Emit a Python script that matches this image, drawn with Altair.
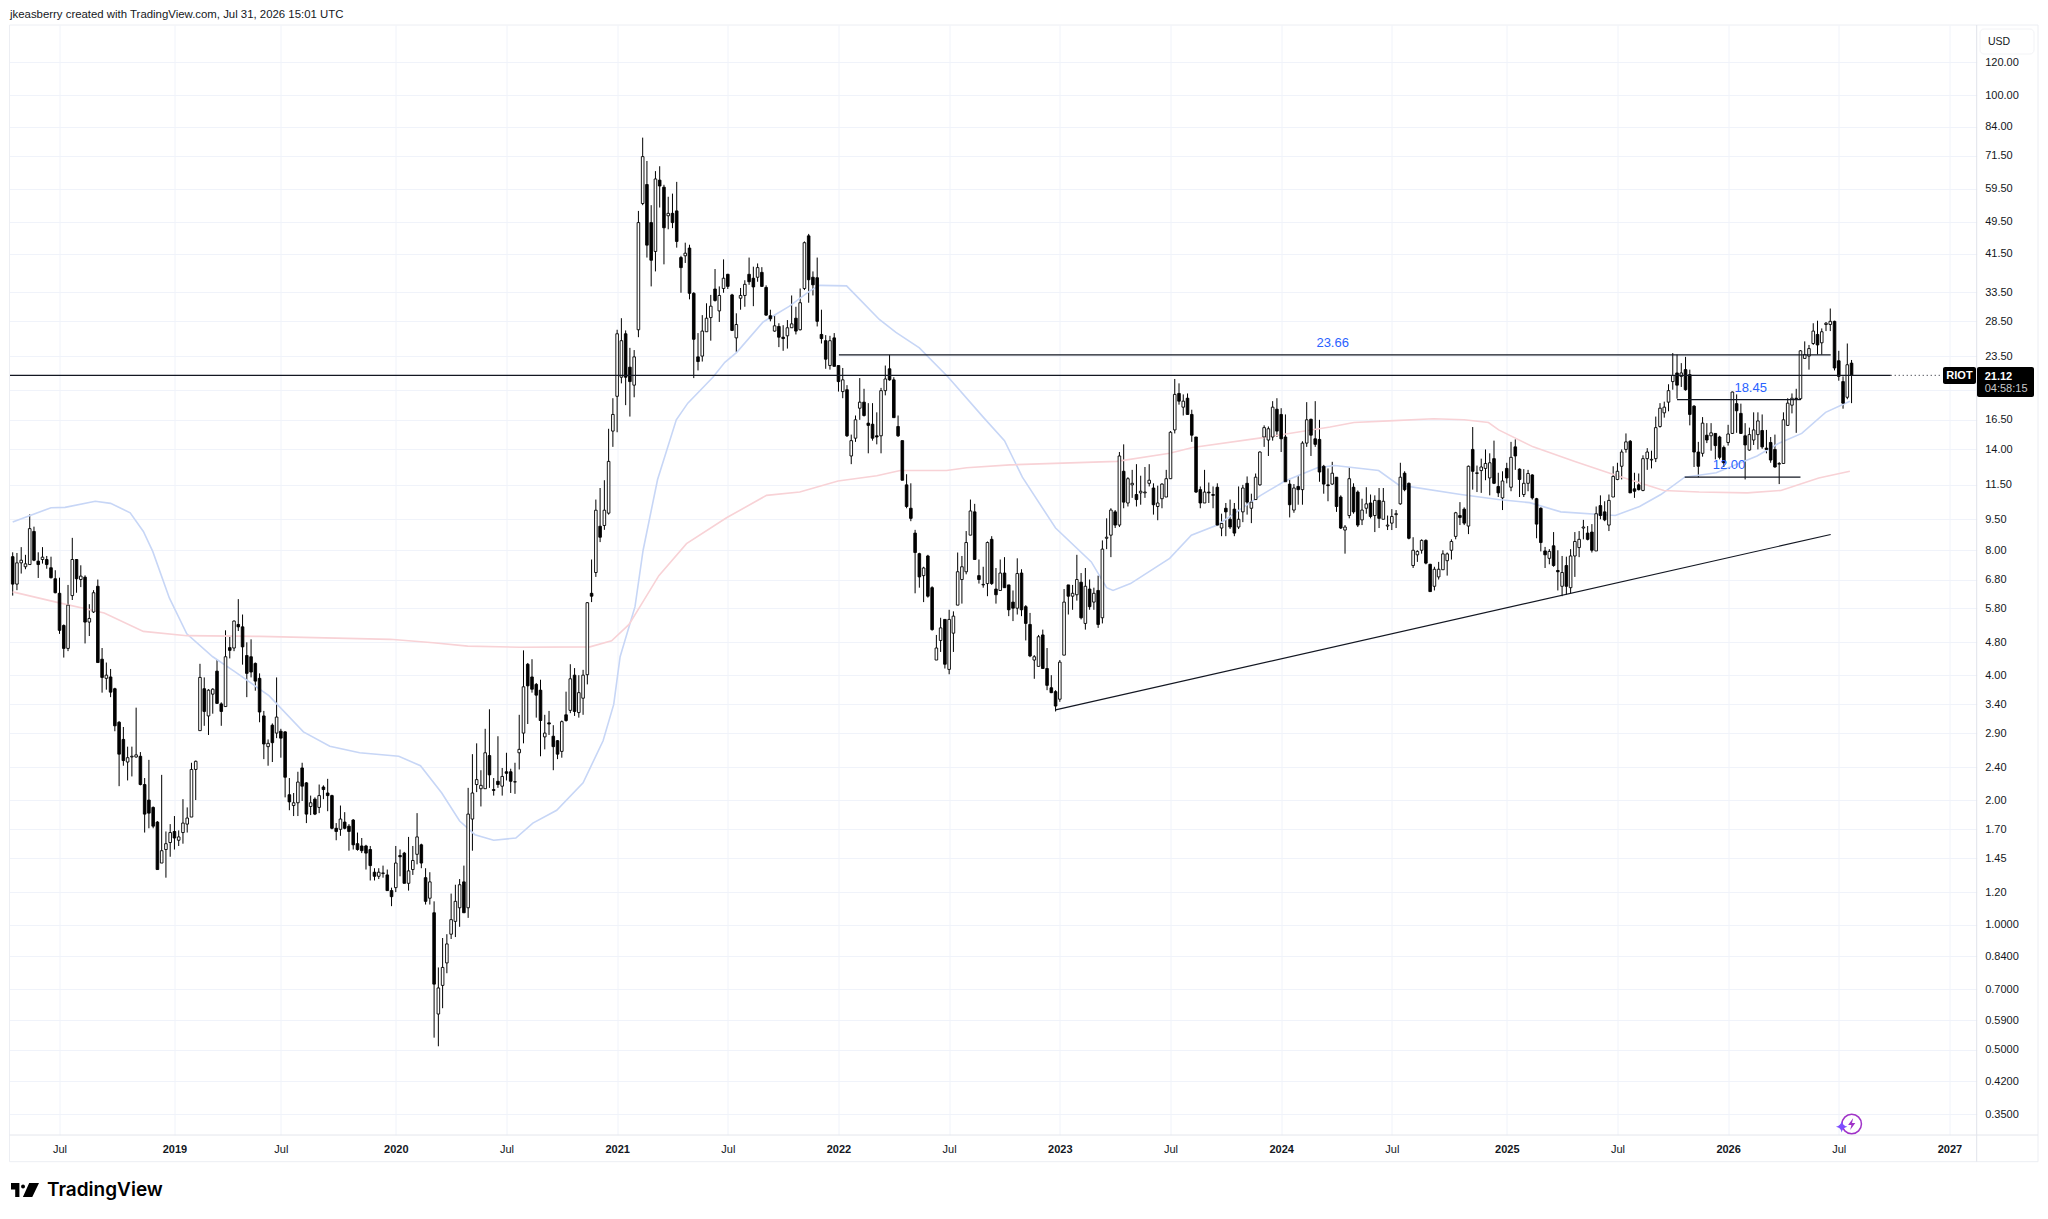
import altair as alt
import pandas as pd

# Weekly candles: (open, high, low, close), grouped by first bar number
bars_from_0 = [
(7.72,7.91,6.22,6.63),(6.63,7.88,6.41,7.46),(7.46,8.14,7.03,7.57),(7.3,7.8,7.2,7.42),(7.39,9.76,7.39,9.02),
(8.88,9.12,7.53,7.57),(7.53,7.91,6.86,7.39),(7.6,8.14,7.43,7.7),(7.6,7.75,7.22,7.39),(7.26,7.72,6.84,6.87),
(6.83,7.16,6.3,6.32),(6.3,6.87,5.03,5.13),(5.27,5.3,4.41,4.64),(4.64,6.6,4.57,5.9),(6.22,8.57,6.07,7.6),
(7.6,7.62,6.32,6.83),(6.8,7.36,6.52,6.93),(6.89,6.96,4.77,5.37),(5.37,5.93,4.97,5.48),(5.68,6.41,5.65,6.32),
(6.55,6.8,4.29,4.29),(4.37,4.65,3.63,3.95),(3.93,4.29,3.69,4.0),(3.96,4.14,3.54,3.64),(3.71,3.73,2.93,3.02),
(3.08,3.1,2.16,2.58),(2.8,3.0,2.42,2.49),(2.47,2.69,2.23,2.53),(2.54,2.69,2.28,2.55),(2.54,3.34,2.53,2.57),
(2.55,2.61,2.17,2.18),(2.18,2.26,1.67,1.85),(2.0,2.5,1.71,1.86),(1.92,1.93,1.71,1.73),(1.77,1.78,1.36,1.36),
(1.41,2.3,1.41,1.51),(1.52,1.68,1.3,1.57),(1.58,1.75,1.46,1.67),(1.68,1.83,1.52,1.62),(1.6,1.69,1.55,1.63),
(1.67,2.01,1.57,1.76),(1.75,1.92,1.67,1.81),(1.82,2.46,1.82,2.37),(2.37,2.49,2.0,2.48),(2.94,4.26,2.94,3.95),
(3.71,3.95,3.02,3.27),(3.19,3.7,2.87,3.68),(3.6,3.72,3.23,3.7),(4.09,4.35,3.41,3.42),(3.41,3.44,3.02,3.27),
(3.36,5.13,3.36,4.43),(4.66,4.97,4.39,4.59),(4.65,5.42,4.57,5.4),(5.3,6.1,5.11,5.23),(5.23,5.6,4.24,4.68),
(4.46,4.8,3.54,4.04),(4.43,4.88,3.95,4.07),(4.27,4.29,3.67,3.87),(3.93,4.04,3.08,3.26),(3.19,3.28,2.51,2.73),
(2.69,2.8,2.42,2.74),(3.03,3.06,2.47,2.75),(2.9,3.95,2.82,3.17),(2.93,2.97,2.53,2.82),(2.92,2.93,2.03,2.27),
(2.06,2.26,1.89,1.98),(1.94,2.08,1.83,1.97),(1.97,2.34,1.83,2.21),
]
bars_from_68 = [
(2.39,2.46,1.99,2.16),(2.2,2.21,1.76,1.85),(1.93,2.05,1.84,1.97),(2.01,2.03,1.84,1.85),(1.92,2.18,1.86,2.05),
(2.15,2.17,2.01,2.12),(2.08,2.25,1.88,2.05),(2.05,2.06,1.70,1.71),(1.71,1.76,1.60,1.68),(1.70,1.94,1.64,1.80),
(1.77,1.87,1.70,1.71),(1.73,1.75,1.51,1.68),(1.79,1.80,1.52,1.56),(1.57,1.67,1.51,1.52),(1.55,1.62,1.49,1.51),
(1.55,1.56,1.36,1.49),(1.52,1.55,1.28,1.39),(1.34,1.37,1.28,1.31),(1.31,1.37,1.29,1.34),(1.33,1.39,1.30,1.335),
(1.32,1.36,1.21,1.21),(1.21,1.23,1.11,1.17),(1.23,1.55,1.20,1.41),(1.47,1.52,1.31,1.46),(1.49,1.50,1.26,1.26),
(1.26,1.63,1.21,1.35),(1.36,1.55,1.32,1.43),(1.48,1.86,1.40,1.63),(1.56,1.57,1.37,1.41),(1.30,1.37,1.12,1.14),
(1.16,1.34,1.12,1.27),(1.07,1.14,.535,.72),(.61,.79,.51,.705),(.715,.93,.63,.79),(.81,.95,.765,.90),
(.95,1.19,.925,1.03),(1.02,1.25,.935,1.14),(1.10,1.29,.99,1.25),(1.27,1.39,1.07,1.07),(1.10,2.14,1.04,1.85),
(1.80,2.58,1.51,2.08),(2.18,2.74,2.09,2.24),(2.13,2.36,1.93,2.17),(2.13,2.97,2.13,2.60),(2.56,3.31,2.14,2.30),
(2.12,2.26,2.05,2.11),(2.22,2.85,2.14,2.18),(2.16,2.39,2.05,2.28),(2.34,2.60,2.23,2.32),(2.34,2.38,2.08,2.22),
(2.21,2.46,2.07,2.215),(2.60,3.21,2.37,2.65),(2.90,4.59,2.74,3.75),(4.25,4.28,3.05,3.77),(3.96,4.37,3.63,3.70),
(3.80,3.83,3.16,3.58),(3.68,3.90,2.55,3.11),(2.84,3.21,2.65,2.90),(3.07,3.28,2.87,3.05),(2.85,3.03,2.36,2.69),
(2.78,2.79,2.51,2.58),(2.62,3.11,2.53,3.09),(3.21,3.65,3.09,3.11),(3.29,4.25,3.24,3.92),(4.0,4.16,3.19,3.27),
(3.25,4.0,3.16,3.63),(3.52,4.12,3.21,4.0),(4.01,6.0,3.80,5.98),
]
bars_from_136 = [
(6.3,7.6,6.0,6.2),(7.07,10.6,6.9,9.99),(9.14,11.3,8.37,8.6),(9.18,11.8,8.96,9.99),(9.83,15.7,9.75,13.1),
(15.5,18.6,14.2,17.0),(18.8,27.2,15.4,26.6),(20.9,29.0,20.2,25.6),(26.6,27.1,17.9,20.9),(22.1,24.6,16.8,20.4),
(20.0,24.3,18.7,23.4),(27.2,52.6,26.1,49.3),(54.8,79.0,54.3,71.1),(60.9,69.4,40.6,43.5),(49.3,54.3,34.6,40),
(42,65.6,37.6,62.8),(62.4,67.4,53.6,60.4),(60,60.8,39.1,47.9),(51.2,56.9,47.5,51.9),(51.9,57.9,47.8,49.3),
(52.6,61.8,42.9,44.4),(40.6,41,33.4,38.4),(41,44.1,39.4,41.6),(42.8,43.6,32.2,33.3),(33.3,33.5,20.8,25.8),
(23.4,26.7,21.7,22.8),(23.5,29.5,22.8,27),(26.9,31.5,26.9,29.0),(29.1,33,25.6,31),(34.1,38.1,31.8,32),
(30.2,34.6,28.4,32.9),(34.2,40.2,33.4,36.2),(37,37.1,34.1,34.6),(33,33.2,27.0,27.1),(26,29.8,24,28),
(32.4,34.3,30.4,32.9),(32.9,35.8,30.9,35),(37,40.6,34.9,35.5),(36.2,38.6,31.0,34.5),(36.4,39.3,35.5,38.4),
(37.4,38.5,34.5,34.6),(34.4,34.8,29.4,29.5),(29.4,30.4,28.5,28.9),(27.0,29.5,26.9,27.8),(27.7,28.2,24.7,26.1),
(26.1,27.9,24.2,25.9),(26.3,28.7,24.5,27.5),(27.5,32.9,27.5,28.1),(29,30.9,26.5,27),(27.2,34.2,27.1,31.6),
(34.2,44.4,33.9,44.1),(45.8,46.3,31.6,35.9),(36.4,37.6,32.9,34.9),(36.3,40.6,27.7,28.5),(26.5,30.4,25.2,25.9),
(25.6,26.4,21.9,23.1),(22.3,26.3,21.8,25.6),(26,26.7,22.2,22.2),(22.3,22.3,19.3,20.4),(19.3,22,18.6,20.6),
(19.5,20,15.0,15.1),(13.5,15.2,12.9,14.7),(14.9,16.9,14.6,16.5),(17.6,20.8,16.5,18.2),(18.2,19.6,16.8,16.9),
(16.2,18.1,13.7,16),(16.1,18.1,14.7,14.9),(15.1,17.2,14.4,15),(15.1,19.7,13.7,19.4),(19.4,22.3,18.9,20.7),
(21.9,23.66,20.5,20.6),(20.6,20.9,16.7,16.7),(15.9,16.9,15,15.1),(14.7,14.7,11.8,11.8),(11.5,12.2,10.1,10.2),
(10.1,11.6,9.4,9.55),(8.8,8.96,6.3,7.9),
]
bars_from_213 = [
(7.85,7.89,6.5,6.9),(6.95,7.3,6.0,7.25),(7.75,7.8,6.15,6.2),(6.5,6.55,5.12,5.15),(4.35,5.0,4.35,4.65),
(4.85,5.5,4.55,5.2),(5.45,5.45,4.15,4.25),(4.13,5.75,4.02,5.45),(5.05,5.7,4.55,5.55),(5.9,7.9,5.9,7.1),
(6.8,7.75,5.95,7.3),(7.1,8.9,7.0,8.35),(8.7,10.6,8.7,9.95),(9.9,10.35,7.6,7.6),(6.95,7.6,6.65,6.8),
(6.6,7.3,6.5,6.62),(6.65,8.4,6.2,8.35),(8.5,8.65,6.6,6.65),(6.45,7.25,5.95,6.25),(6.4,7.6,6.4,7.05),
(7.05,7.7,6.5,6.5),(6.6,6.6,5.55,5.75),(6.0,6.4,5.4,5.8),(5.8,7.65,5.6,7.03),(7.05,7.2,5.55,5.75),
(5.85,5.9,4.85,5.33),(5.3,5.65,4.42,4.45),(4.35,4.47,3.92,4.43),(4.2,5.0,4.2,4.95),(5.0,5.15,4.15,4.15),
(4.15,4.65,3.68,3.78),(3.73,4.0,3.62,3.63),(3.65,3.68,3.27,3.37),(3.5,4.35,3.45,4.3),(4.47,6.45,4.47,6.0),
(6.6,6.6,5.6,6.2),(6.2,6.6,5.75,6.3),(6.25,7.8,6.05,6.8),(6.7,7.05,5.45,5.5),(5.33,7.25,5.15,6.55),
(6.45,6.8,5.75,5.85),(6.0,6.5,5.75,6.3),(6.4,6.95,5.2,5.3),(5.5,8.45,5.33,8.05),(8.55,9.55,8.05,8.6),
(8.7,10.1,7.7,10),(9.9,10,9.05,9.2),(9.2,13.8,9.1,13.5),(12.4,14.4,10.1,10.45),(10.4,12,10.2,11.9),
(11.5,12.5,10.7,11.6),(10.9,12.9,10.2,10.6),(11,12.1,10.3,11.1),(11.0,12.7,10.7,11.05),(11.6,12.9,11.4,11.8),
(11.3,11.6,9.75,10.3),(10.2,11.45,9.45,10.4),(10.65,11.6,10.1,11.55),(10.75,12.5,10.75,11.9),(11.9,15.5,11.9,15.4),
(15.6,20.7,15.3,19),(19.1,20.2,17.95,18.3),(17.7,19,16.9,18.3),(18.6,19.1,17,17),(17,17.45,14.6,15.15),
(15,15,11,11.05),(11.2,11.4,10.1,10.4),(10.4,12.5,10.4,11.05),(11.05,11.65,10.4,11.0),(10.9,11.4,10.1,10.85),
(11.35,11.6,9.15,9.2),(9.05,9.8,8.65,9.28),(10.1,10.4,8.65,9.9),(9.5,10.6,9.0,9.1),(10.05,10.4,8.65,8.8),
(9.1,11.4,9.0,9.5),(9.9,11.5,9.35,11.3),(11.6,12.05,9.75,10.45),(10.1,10.95,9.3,10.45),(10.6,12.25,10.6,12),
(11.5,13.85,11.45,13.8),(15,16,14.2,15.8),(14.75,15.9,13.5,15.7),(15,18.3,14.7,17.7),(17.5,18.6,15,15.5),
(17,17.6,13.8,14.85),(15,17,11.7,11.7),(11.55,11.85,9.6,10.3),(10,11.55,9.85,11.3),(11.4,12.15,10.3,11.2),
(11.2,14.65,10.3,14.5),(14.5,18.2,14.2,16.5),(16.55,16.6,13.5,15.15),(14.85,18.3,14.2,14.4),(14.8,16.5,11.7,12.35),
(12.75,12.85,10.95,11.55),(11.5,12.6,10.5,11.45),
]
bars_from_310 = [
(11.55,13.07,11.5,12.27),(12,12,9.9,10.2),(10.75,10.85,9.0,9.05),(8.95,9.2,7.85,9.1),(9.7,12.7,9.55,11.9),
(11.35,11.6,9.8,9.9),(11.05,11.15,9.1,9.2),(9.47,10.65,9.2,10),(10.1,11.35,9.8,10.35),(10.4,10.9,9.55,9.65),
(9.7,10.85,8.85,10.55),(10.55,11.3,9.05,9.55),(9.5,11.3,9.5,10.5),(9.15,9.7,8.95,9.2),(9.3,10.05,8.95,9.65),
(9.75,10,9.05,9.8),(10.35,13,10.3,12),(12.27,12.4,11.1,11.2),(11.6,11.65,8.5,8.55),(7.35,8.6,7.25,8.0),
(7.8,8.0,7.5,7.95),(8.0,8.5,7.85,8.45),(8.45,8.5,7.4,7.45),(7.4,7.42,6.36,6.36),(6.55,7.3,6.4,7.2),
(6.9,7.5,6.8,7.2),(7.18,8.0,7.18,7.84),(7.55,7.9,6.95,7.84),(8.0,8.5,7.6,8.4),(8.64,9.9,8.5,9.85),
(9.7,10.45,9.2,9.6),(10.05,10.15,9.2,9.3),(9.15,12.8,8.75,12.75),(14,15.85,11.2,12.4),(12.25,12.8,11.05,12.3),
(12.45,13.3,11,12.7),(12.6,14,11.8,12.95),(11.95,13.7,10.85,13),(13.3,14.7,11.55,11.6),(11.4,12.3,10.75,11),
(10.7,12.4,10,11.75),(12.6,13,11.6,11.95),(11.35,14.6,11.1,13.4),(14.2,14.8,12.5,13.5),(12.55,12.6,10.75,11.85),
(10.9,12.55,10.75,11.6),(11.6,12.5,11.1,12.25),(12.15,12.2,10.6,10.7),(10.65,10.7,8.55,9.25),(10.1,10.15,7.95,8.35),
(7.97,8.15,7.25,7.8),(7.65,8.05,7.4,7.95),(8.2,8.85,7.3,7.35),(7.15,8,6.4,7.1),(6.55,7.75,6.2,7.07),
(7.35,7.72,6.25,6.55),(6.5,8.05,6.3,7.75),(7.75,8.85,6.9,8.4),(8.12,8.9,7.7,8.5),(9.05,9.47,8.5,9.1),
(8.8,9.15,8.45,8.5),(8.85,9.25,7.9,8),(7.97,10.2,7.97,9.8),(10.25,10.85,9.5,9.7),(9.9,10.5,9.4,9.47),
(9.2,10.9,8.9,10.55),(10.75,12.75,10.75,12.05),(11.85,13,11.8,12.4),(12.75,14,11.85,13.8),(14,15.3,13.75,14.6),
(14.65,14.75,11,11),(11.25,12.3,10.7,11.1),(11.5,12.25,11.15,11.2),(11.15,13.55,11.1,13.3),(13.3,14.1,12.5,13.8),
(13.2,13.9,12.6,13.25),(13.3,16.8,13.05,15.8),(15.9,18.1,15.8,17.6),(17.15,18.25,16.7,17.7),(18.2,20.1,17.3,19.4),
]
bars_from_390 = [
(20.4,23.9,19.5,21.1),(21.4,23.7,18.55,20),(21,22.6,19.8,21.4),(21.8,23.4,19.4,19.5),(21.2,21.8,16,17),
(17.8,17.9,12.7,13.8),(13.8,14.6,12,12.75),(13.7,16.75,13.45,16.2),(15.15,16.2,14.5,14.75),(15.1,16.2,13.9,15.35),
(15.3,15.3,13.25,14.3),(15,15.1,13.25,13.4),(14.15,14.3,12.7,13),(14.55,16.05,14.3,15.25),(15.3,19.3,15.25,19.25),
(18.05,19,15.35,17.35),(17.1,18.05,15.25,15.3),(15.1,16.2,11.85,14.35),(13.95,15.8,13.9,15.2),(14.75,17.2,14.35,15.6),
(15.2,17.2,14,16.4),(15.55,17,14.05,14.2),(14.1,15.6,13.7,14),(14.55,15,13,13.2),(14,15.2,12.65,12.7),
(12.9,13.05,11.55,12.95),(12.95,17.2,12.95,16.5),(16,18.6,15.95,18.1),(17.9,19.1,17.1,18.6),(18.6,19.6,15.35,18.55),
(18.55,24.3,18.4,24.2),(23.2,25.5,23.2,23.7),(23.5,25,21.8,24.5),(25.2,28.2,25,27),(26.5,28.6,23.7,25),
(25.3,27.4,23.7,26.9),(28.0,28.4,27,28.2),(28,30.6,27,28.5),(28.5,28.6,21.7,22),(22.9,24.2,20.5,21),
(20.4,21,17.55,18.1),(18.7,25.2,18.5,22.4),(22.6,23,18.1,21.12),
]
bar_groups = [(0,bars_from_0),(68,bars_from_68),(136,bars_from_136),(213,bars_from_213),(310,bars_from_310),(390,bars_from_390)]

# Light blue and light pink moving averages: bar number, price
blue_bar = [0,9,12.3,19.4,23,27.6,30.7,32.9,36.8,40.9,47,52,60.2,68.3,74.5,81.5,90.7,95.8,100.8,105,108.6,113,118.2,122.2,127.8,134,138.7,141.2,142.7,146.2,148.1,151.5,155.9,158.6,164.5,167.3,170.1,176.3,182.5,187.2,189.6,195.9,199,203.6,207.5,213,219.8,228,233,237.2,245,253.4,257,258.5,262.6,271.8,276.9,283,293.2,298.9,306.5,310.6,320.9,325.6,340.2,349,356.4,363.7,376.5,382.2,387.2,392.8,400.2,409.8,414.7,420.3,425.9,431.6]
blue_price = [9.36,10.13,10.15,10.5,10.38,9.85,8.88,7.95,6.14,5.03,4.43,4.09,3.57,2.92,2.695,2.6,2.55,2.42,2.08,1.78,1.65,1.6,1.62,1.76,1.89,2.2,2.78,3.4,4.43,5.85,8.0,11.85,16.5,18.1,20.9,22.7,24,28.4,31,33.7,34.8,34.7,32.2,28.8,26.8,24.6,20.9,16.75,14.7,12,9.05,7.5,6.5,6.4,6.65,7.65,8.7,9.2,10.85,11.75,12.65,12.8,12.45,11.5,10.9,10.6,10.42,9.9,9.7,10.2,10.9,12,12.3,13.5,14.45,15.3,17.2,18.3]
pink_bar = [0,10.2,21.5,30.7,40.9,58.1,88.7,98.8,106.9,119.2,135.6,140.7,144.8,147.8,151.8,158.3,167.7,177.1,184.9,193.9,203,208.5,219.4,224.1,234.3,259.4,271.8,277.2,293.7,309.5,315.1,323.3,333.8,341,346.7,349.1,357.2,367,375.9,387.9,396.2,407.5,415.4,424.3,431.6]
pink_price = [6.35,6.0,5.65,5.1,4.98,4.96,4.88,4.79,4.7,4.67,4.68,4.84,5.3,5.95,6.95,8.3,9.58,10.85,11.05,11.75,12.1,12.45,12.45,12.65,12.85,13.1,13.7,14.15,14.95,15.85,16.25,16.4,16.6,16.5,16.25,15.6,14.2,13.1,12.2,11.15,11.05,11.0,11.15,11.95,12.4]

# Drawn levels and labels
level_start = [-0.75,194.1,391,392.8]
level_end = [441.2,427.1,419.9,420]
level_price = [21.12,23.66,18.45,12.0]
note_bar = [310.1,408.3,403.2]
note_price = [23.66,18.45,12.0]
note_text = ["23.66","18.45","12.00"]
trend_bar = [245,427.1]
trend_price = [3.3,8.73]
last_price = 21.12
dotted_end = 453.4

price_ticks = [120,100,84,71.5,59.5,49.5,41.5,33.5,28.5,23.5,19.5,16.5,14,11.5,9.5,8,6.8,5.8,4.8,4,3.4,2.9,2.4,2,1.7,1.45,1.2,1,.84,.7,.59,.5,.42,.35]
time_bars = [11,38,63,90,116,142,168,194,220,246,272,298,324,351,377,403,429,455]
time_labels = ["Jul","2019","Jul","2020","Jul","2021","Jul","2022","Jul","2023","Jul","2024","Jul","2025","Jul","2026","Jul","2027"]
year_bars = [b for b, t in zip(time_bars, time_labels) if t != "Jul"]

FONT = "Liberation Sans"
INK = "#131722"
BLUE_TEXT = "#2962ff"
W, H = 1967.2, 1110
L, T = 9.5, 25   # where the plot area sits on the page


def px(v):
    return alt.value(v - L)


def py(v):
    return alt.value(v - T)


rows = []
for start, group in bar_groups:
    for k, (o, h, lo, c) in enumerate(group):
        rows.append(dict(i=start + k, o=o, h=h, l=lo, c=c, top=max(o, c), bot=min(o, c),
                         up="up" if c >= o else "down"))
candles = pd.DataFrame(rows)

xs = alt.Scale(domain=[-0.75, 461.4], zero=False, nice=False, padding=0)
ys = alt.Scale(type="log", domain=[0.3117, 147.6], nice=False, padding=0)

xexpr = "[" + ",".join(f"'{t}'" for t in time_labels) + "][indexof([" + ",".join(map(str, time_bars)) + "],datum.value)]"
yexpr = "datum.value==19.5?'':(datum.value<=1?format(datum.value,'.4f'):format(datum.value,'.2f'))"
year_test = "indexof([" + ",".join(map(str, year_bars)) + "],datum.value)>=0"

x_axis = alt.Axis(values=time_bars, labelExpr=xexpr, title=None, grid=True, gridColor="#f0f3fa", gridWidth=1,
                  ticks=False, domain=False, labelFont=FONT, labelFontSize=11, labelColor=INK, labelPadding=8,
                  labelFontWeight={"condition": {"test": year_test, "value": 600}, "value": 400},
                  labelOverlap=False, labelFlush=False)
y_axis = alt.Axis(values=price_ticks, labelExpr=yexpr, title=None, grid=True, gridColor="#f0f3fa", gridWidth=1,
                  ticks=False, domain=False, orient="right", labelFont=FONT, labelFontSize=11, labelColor=INK,
                  labelPadding=8, labelAlign="left", labelBaseline="middle", labelOverlap=False)

X = alt.X("i:Q", scale=xs, axis=x_axis)
Y = alt.Y("p:Q", scale=ys, axis=y_axis)

wicks = alt.Chart(candles).mark_rule(color="#000000", strokeWidth=1).encode(
    x=X,
    y=alt.Y("h:Q", scale=ys, axis=y_axis),
    y2="l:Q",
)
bodies = alt.Chart(candles).mark_bar(size=2.6, stroke="#000000", strokeWidth=0.9).encode(
    x=X,
    y=alt.Y("top:Q", scale=ys, axis=y_axis),
    y2="bot:Q",
    fill=alt.Fill("up:N", scale=alt.Scale(domain=["up", "down"], range=["#ffffff", "#000000"]), legend=None),
)
blue_line = alt.Chart(pd.DataFrame({"i": blue_bar, "p": blue_price})).mark_line(
    color="#c7d6f6", strokeWidth=1.6).encode(x=X, y=Y)
pink_line = alt.Chart(pd.DataFrame({"i": pink_bar, "p": pink_price})).mark_line(
    color="#f8d2d6", strokeWidth=1.6).encode(x=X, y=Y)
levels = alt.Chart(pd.DataFrame({"i": level_start, "e": level_end, "p": level_price})).mark_rule(
    color=INK, strokeWidth=1.2).encode(x=X, x2="e:Q", y=Y)
trend = alt.Chart(pd.DataFrame({"i": trend_bar, "p": trend_price})).mark_line(
    color=INK, strokeWidth=1.2).encode(x=X, y=Y)
dotted = alt.Chart(pd.DataFrame({"i": [level_end[0]], "e": [dotted_end], "p": [last_price]})).mark_rule(
    color=INK, strokeWidth=1, strokeDash=[1, 3]).encode(x=X, x2="e:Q", y=Y)
notes = alt.Chart(pd.DataFrame({"i": note_bar, "p": note_price, "t": note_text})).mark_text(
    color=BLUE_TEXT, font=FONT, fontSize=13, dy=-12, baseline="middle", align="center").encode(x=X, y=Y, text="t:N")

layers = [wicks, blue_line, pink_line, bodies, levels, trend, dotted, notes]


def frame_rule(x0, x1, y0, y1, color):
    return alt.Chart(pd.DataFrame({"k": [0]})).mark_rule(color=color, strokeWidth=1).encode(
        x=px(x0), x2=px(x1), y=py(y0), y2=py(y1))


def box(x0, x1, y0, y1, fill, stroke=None, radius=2):
    kw = dict(fill=fill, cornerRadius=radius)
    if stroke:
        kw.update(stroke=stroke, strokeWidth=1)
    return alt.Chart(pd.DataFrame({"k": [0]})).mark_rect(**kw).encode(
        x=px(x0), x2=px(x1), y=py(y0), y2=py(y1))


def label(txt, x, y, size=11, color=INK, weight=400, align="left", font=FONT):
    return alt.Chart(pd.DataFrame({"t": [txt]})).mark_text(
        fontSize=size, color=color, fontWeight=weight, align=align, baseline="middle", font=font
    ).encode(x=px(x), y=py(y), text="t:N")


def glyph(path, x, y, size, fill):
    return alt.Chart(pd.DataFrame({"k": [0]})).mark_point(
        shape=path, size=size, filled=True, fill=fill, opacity=1, strokeWidth=0
    ).encode(x=px(x), y=py(y))


FRAME = "#eceef3"
layers += [
    frame_rule(L, 2038, 25, 25, FRAME),
    frame_rule(L, 2038, 1161.7, 1161.7, FRAME),
    frame_rule(L, L, 25, 1161.7, FRAME),
    frame_rule(2038, 2038, 25, 1161.7, FRAME),
    frame_rule(L, 2038, 1135, 1135, "#e4e6ec"),
    frame_rule(1976.7, 1976.7, 25, 1161.7, "#e0e3eb"),
    box(1980, 2034, 29, 54, "#ffffff", "#f2f3f6", 4),
    label("USD", 1988, 42, size=10.5),
    box(1943, 1976, 367, 384, "#000000"),
    label("RIOT", 1959.5, 376, color="#ffffff", weight=700, align="center"),
    box(1977, 2034, 367, 397, "#000000"),
    label("21.12", 1984.7, 376.5, color="#ffffff", weight=700),
    label("04:58:15", 1984.7, 389, color="#c8c9cc"),
    label("jkeasberry created with TradingView.com, Jul 31, 2026 15:01 UTC", 10, 14.5, size=11.4),
    label("TradingView", 47, 1190, size=19, color="#000000", weight=600, font="Inter"),
    glyph("M-1 -.5H-.4V.5H-.7V-.03H-1Z M-.28 -.25a.14 .14 0 1 0 .28 0a.14 .14 0 1 0 -.28 0Z M.3 -.5H1L.52 .5H-.15Z",
          25, 1190, 784, "#000000"),
    alt.Chart(pd.DataFrame({"k": [0]})).mark_point(shape="circle", size=380, filled=False, stroke="#a033c8",
                                                    strokeWidth=1.5, opacity=1).encode(x=px(1851.7), y=py(1124)),
    glyph("M.25 -1L-.6 .15H-.05L-.25 1L.6 -.15H.05Z", 1851.7, 1124, 144, "#a033c8"),
    glyph("M0 -1Q.15 -.15 1 0Q.15 .15 0 1Q-.15 .15 -1 0Q-.15 -.15 0 -1Z", 1841.7, 1126.7, 130, "#7e4dff"),
]

chart = alt.layer(*layers).resolve_scale(fill="independent").properties(
    width=W, height=H,
    padding={"left": L - 8, "top": T - 8, "right": 2040 - L - W, "bottom": 1211 - T - H},
    autosize=alt.AutoSizeParams(type="none"),
    background="#ffffff",
).configure_view(strokeWidth=0)

chart.save("out.html", embed_options={"renderer": "svg", "actions": False})
